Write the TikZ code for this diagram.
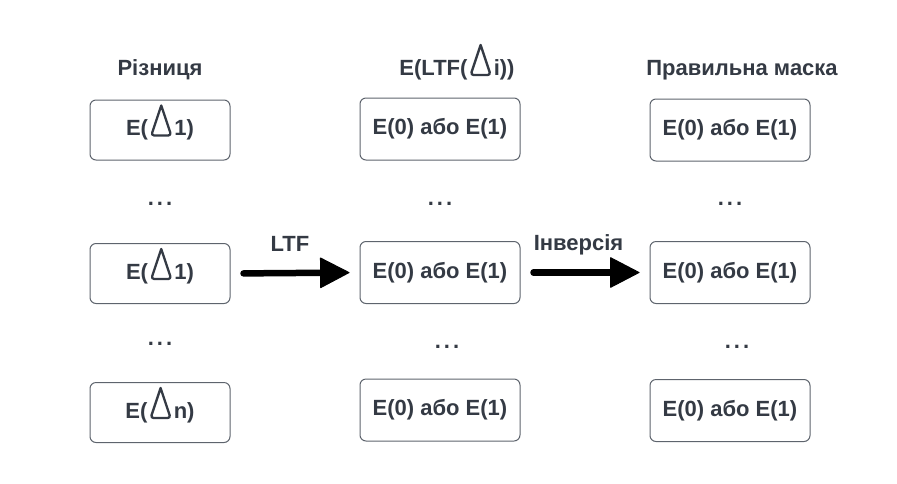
\documentclass[tikz,border=0pt]{standalone}
\usepackage{fontspec}
\setmainfont{Liberation Sans}
\usepackage{xcolor}
\usepackage{tikz}
\usetikzlibrary{arrows.meta}
\definecolor{ink}{HTML}{343A44}
\definecolor{edge}{HTML}{5E646D}
\newcommand{\dlt}{\kern2pt\smash{\tikz[baseline=0pt,x=1pt,y=1pt]\draw[ink,line width=2.3pt,line join=round] (9.5,30) [rounded corners=3pt] -- (-0.5,0) -- (19.5,0) [sharp corners] -- cycle;}\kern2pt}
\tikzset{
  txt/.style={text=ink, font=\fontsize{22pt}{26pt}\selectfont\bfseries, inner sep=0pt},
  cell/.style={txt, draw=edge, line width=1pt, rounded corners=6pt, text height=15pt, text depth=4pt},
  narrow/.style={cell, minimum width=140pt, minimum height=60pt},
  wide/.style={cell, minimum width=160pt, minimum height=62pt},
  head/.style={txt, anchor=base},
  gap/.style={txt, anchor=base},
  flow/.style={draw=black, line width=6.5pt, line cap=round, shorten <=13pt, shorten >=10pt,
    -{Triangle[length=30pt,width=31pt,line width=1pt,round]}},
}
\begin{document}
\begin{tikzpicture}[x=1pt,y=-1pt]
  \useasboundingbox (0,0) rectangle (897,483);

  % headers
  \node[head] (hd) at (160,75) {Різниця};
  \node[head] (hl) at (457,75) {E(LTF(\dlt i))};
  \node[head] (hm) at (742,75) {Правильна маска};

  % differences
  \node[narrow] (d1) at (160,130) {E(\dlt 1)};
  \node[narrow] (d2) at (160,273.5) {E(\dlt 1)};
  \node[narrow] (dn) at (160,412.5) {E(\dlt n)};

  % after LTF
  \node[wide] (l1) at (440,129) {E(0) або E(1)};
  \node[wide] (l2) at (440,272.5) {E(0) або E(1)};
  \node[wide] (l3) at (440,410) {E(0) або E(1)};

  % masks
  \node[wide] (m1) at (730,130) {E(0) або E(1)};
  \node[wide] (m2) at (730,272.5) {E(0) або E(1)};
  \node[wide] (m3) at (730,410.5) {E(0) або E(1)};

  % gaps
  \node[gap] (gd1) at (160,205) {.\hspace{3pt}.\hspace{3pt}.};
  \node[gap] (gd2) at (160,345) {.\hspace{3pt}.\hspace{3pt}.};
  \node[gap] (gl1) at (440,205) {.\hspace{3pt}.\hspace{3pt}.};
  \node[gap] (gl2) at (447,348) {.\hspace{3pt}.\hspace{3pt}.};
  \node[gap] (gm1) at (730,205) {.\hspace{3pt}.\hspace{3pt}.};
  \node[gap] (gm2) at (737,348) {.\hspace{3pt}.\hspace{3pt}.};

  \draw[flow] (d2.east) -- node[txt, pos=0.46, yshift=22pt, anchor=base] {LTF} (l2.west);
  \draw[flow] (l2.east) -- node[txt, pos=0.45, yshift=22pt, anchor=base] {Інверсія} (m2.west);
\end{tikzpicture}
\end{document}
